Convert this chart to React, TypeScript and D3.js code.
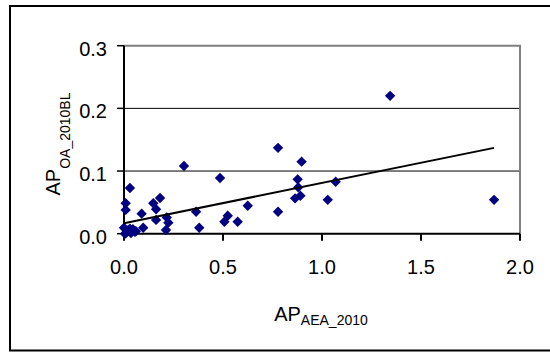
import React from "react";
import * as d3 from "d3";

// AP_AEA_2010 (x) against AP_OA_2010BL (y)
const xValues = [
  1.344, 0.778, 0.897, 0.303, 0.485, 0.877, 0.88, 0.864, 0.891, 1.069, 1.029, 1.869,
  0.778, 0.625, 0.524, 0.507, 0.574, 0.364, 0.38, 0.03, 0.0085, 0.0085, 0.089, 0.097,
  0.182, 0.148, 0.162, 0.162, 0.216, 0.224, 0.212, 0.0, 0.005, 0.02, 0.03, 0.045,
  0.055, 0.012, 0.035, 0.06,
];
const yValues = [
  0.22, 0.137, 0.115, 0.108, 0.089, 0.0867, 0.074, 0.0564, 0.0606, 0.083, 0.054, 0.054,
  0.035, 0.0447, 0.0287, 0.019, 0.019, 0.035, 0.0096, 0.073, 0.0485, 0.038, 0.032, 0.0096,
  0.057, 0.0485, 0.039, 0.022, 0.026, 0.0176, 0.006, 0.0096, 0.0, 0.005, 0.008, 0.007,
  0.003, 0.002, 0.001, 0.004,
];

// Linear trend line: y = intercept + slope * x
const trendIntercept = 0.0166;
const trendSlope = 0.0644;

const xTicks = [0, 0.5, 1.0, 1.5, 2.0];
const yTicks = [0, 0.1, 0.2, 0.3];

const W = 550;
const H = 352;
const left = 124;
const right = 520;
const top = 45.7;
const bottom = 233.7;

const FONT = "'Liberation Sans', Arial, Helvetica, sans-serif";

export default function App() {
  const x = d3.scaleLinear().domain([0, 2]).range([left, right]);
  const y = d3.scaleLinear().domain([0, 0.3]).range([bottom, top]);

  const points = xValues.map((xv, i) => ({ x: xv, y: yValues[i] }));
  const xMax = d3.max(xValues) as number;
  const trend = d3.line<number>()
    .x((d) => x(d))
    .y((d) => y(trendIntercept + trendSlope * d));

  const r = 5.2;
  const diamond = `M0,${-r}L${r},0L0,${r}L${-r},0Z`;

  return (
    <svg
      width={W}
      height={H}
      style={{ position: "absolute", left: 0, top: 0, background: "#fff" }}
      fontFamily={FONT}
    >
      {/* outer frame */}
      <rect x={10} y={6} width={560} height={344.5} fill="none" stroke="#000" strokeWidth={2} />

      {/* horizontal gridlines */}
      {yTicks.filter((t) => t > 0 && t < 0.3).map((t) => (
        <line key={t} x1={left} x2={right} y1={y(t)} y2={y(t)} stroke="#000" strokeWidth={1} />
      ))}

      {/* plot border (top and right) */}
      <path
        d={`M${left},${top}H${right}V${bottom}`}
        fill="none"
        stroke="#808080"
        strokeWidth={2}
      />

      {/* axes */}
      <line x1={left} x2={left} y1={top} y2={bottom} stroke="#000" strokeWidth={2} />
      <line x1={left} x2={right} y1={bottom} y2={bottom} stroke="#000" strokeWidth={2} />

      {/* y ticks and labels */}
      {yTicks.map((t) => (
        <g key={t}>
          <line x1={left - 7} x2={left} y1={y(t)} y2={y(t)} stroke="#000" strokeWidth={1.5} />
          <text x={107} y={y(t) + 10} textAnchor="end" fontSize={20} fill="#000">
            {d3.format(".1f")(t)}
          </text>
        </g>
      ))}

      {/* x ticks and labels */}
      {xTicks.map((t) => (
        <g key={t}>
          <line x1={x(t)} x2={x(t)} y1={bottom} y2={bottom + 7} stroke="#000" strokeWidth={2} />
          <text x={x(t)} y={274} textAnchor="middle" fontSize={20} fill="#000">
            {d3.format(".1f")(t)}
          </text>
        </g>
      ))}

      {/* data points */}
      {points.map((p, i) => (
        <path key={i} d={diamond} transform={`translate(${x(p.x)},${y(p.y)})`} fill="#000080" />
      ))}

      {/* trend line */}
      <path d={trend([0, xMax]) as string} fill="none" stroke="#000" strokeWidth={2} />

      {/* x axis title */}
      <text x={(left + right) / 2 - 1} y={320.5} textAnchor="middle" fill="#000">
        <tspan fontSize={20}>AP</tspan>
        <tspan fontSize={14} dy={4.5}>AEA_2010</tspan>
      </text>

      {/* y axis title */}
      <text
        transform={`translate(60,144) rotate(-90)`}
        textAnchor="middle"
        fill="#000"
      >
        <tspan fontSize={20}>AP</tspan>
        <tspan fontSize={14} dy={10}>OA_2010BL</tspan>
      </text>
    </svg>
  );
}
